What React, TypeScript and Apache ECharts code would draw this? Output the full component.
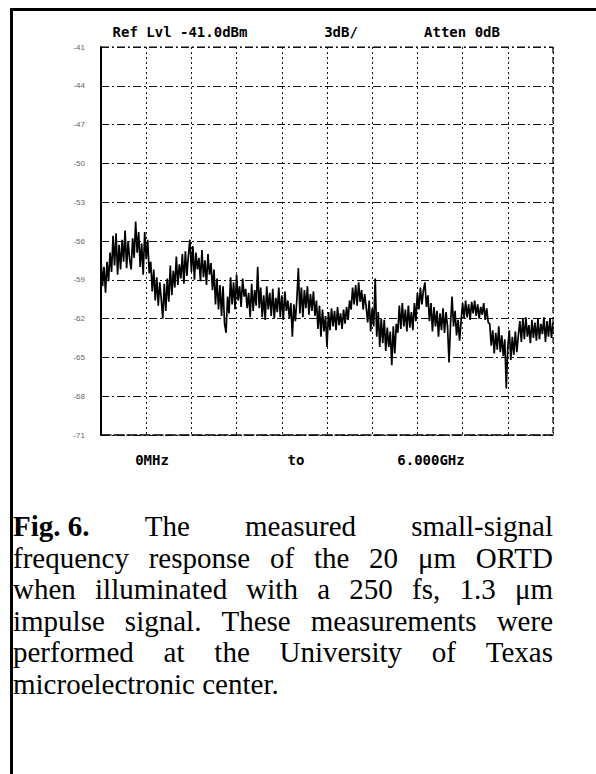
import React, { useEffect, useRef } from "react";
import * as echarts from "echarts";

// Spectrum analyser trace, 0 MHz .. 6000 MHz, one reading every 20 MHz (dBm)
const FREQ_STEP_MHZ = 20;
const traceDbm = [
  -57.4, -59.5, -58.0, -60.0, -57.6, -59.1, -56.9,
  -58.4, -55.6, -57.9, -55.4, -58.6, -56.3,
  -58.2, -55.9, -57.6, -55.2, -58.1, -56.0, -57.4,
  -58.2, -55.8, -57.3, -54.5, -56.9, -55.3, -58.0,
  -56.2, -58.6, -55.3, -57.4, -55.9, -58.5,
  -57.6, -59.9, -58.2, -60.6, -58.8,
  -61.0, -59.2, -60.5, -62.0, -59.3, -61.4, -58.9, -60.7,
  -57.9, -60.2, -58.3, -59.6, -57.2, -59.4, -57.8, -58.9, -57.0, -59.3,
  -56.8, -58.7, -57.1, -55.9, -58.4, -56.4, -59.0, -56.9, -58.2, -57.3,
  -59.1, -56.7, -58.8, -57.5, -59.4, -57.0, -58.6, -57.7,
  -59.8, -58.2, -60.9, -58.9, -61.3, -59.4,
  -61.8, -59.5, -62.4, -63.1, -60.3, -61.6,
  -58.8, -60.9, -59.2, -61.3, -58.6, -60.6, -59.5, -61.1, -58.9, -60.3, -59.7, -61.2, -60.0,
  -61.9, -59.3, -61.4, -59.8, -61.0, -58.0, -61.2,
  -59.6, -61.9, -60.2, -62.1, -59.5, -61.3, -60.0, -61.8, -59.7, -62.0,
  -60.4, -61.5, -59.6, -61.9, -60.2, -62.1, -59.9, -61.4, -60.6, -62.0,
  -60.8, -63.4, -60.9, -62.2, -60.5, -58.1,
  -61.6, -59.6, -61.9, -59.8, -61.2, -59.5, -61.7, -60.1, -61.4, -59.9, -61.8,
  -60.6, -62.8, -61.0, -63.4, -61.3, -63.0, -61.8, -64.2, -61.5,
  -62.9, -61.2, -62.6, -61.4, -62.9, -61.1, -62.5, -61.6, -62.8, -61.3, -62.4, -61.1, -62.1,
  -60.6, -61.3, -59.6, -60.9, -59.4, -61.0, -59.2, -60.7, -59.8, -61.3, -60.1, -61.1,
  -62.3, -60.6, -63.0, -61.2, -62.6, -58.9, -63.4, -61.5, -64.2, -62.0,
  -63.9, -62.1, -64.5, -62.7, -64.2, -63.0, -65.6, -62.6, -64.7, -62.4,
  -63.1, -61.0, -62.8, -60.8, -62.6, -61.3, -63.0, -61.0, -62.7, -61.5, -62.9, -60.8, -62.2,
  -60.0, -61.3, -59.6, -60.9, -59.8, -59.2, -61.1, -60.2,
  -62.2, -60.8, -63.0, -61.1, -62.6, -61.4, -63.4, -61.6, -62.9, -61.2, -63.1, -61.5, -62.6,
  -65.4, -62.4, -60.3, -62.6, -61.4,
  -63.3, -62.1, -63.7, -62.2,
  -60.8, -62.0, -60.6, -61.9, -60.9, -62.1, -60.7, -61.6, -60.6, -61.8,
  -60.9, -62.0, -61.1, -61.7, -60.8, -62.1, -61.2, -62.3,
  -62.4, -64.1, -62.9, -64.7, -63.1, -64.4, -62.6, -64.6, -63.3, -64.9,
  -63.6, -67.4, -64.2,
  -62.9, -65.2, -63.4, -64.8, -63.0, -64.6, -63.3,
  -62.2, -63.8, -62.0, -63.6, -61.9, -63.4, -62.5, -63.9, -62.1, -63.5,
  -62.3, -63.7, -62.0, -63.6, -62.4, -63.2, -61.9, -63.8, -62.2, -63.4,
  -62.0, -63.5, -62.3,
];

const REF_LEVEL = -41; // dBm, top of screen
const DB_PER_DIV = 3;
const DIVISIONS = 10;
const SPAN_MHZ = 6000;

const headerTexts = ["Ref Lvl -41.0dBm", "3dB/", "Atten 0dB"];
const footerTexts = ["0MHz", "to", "6.000GHz"];

const captionLines: string[][] = [
  ["Fig. 6.", "The", "measured", "small-signal"],
  ["frequency", "response", "of", "the", "20", "μm", "ORTD"],
  ["when", "illuminated", "with", "a", "250", "fs,", "1.3", "μm"],
  ["impulse", "signal.", "These", "measurements", "were"],
  ["performed", "at", "the", "University", "of", "Texas"],
  ["microelectronic", "center."],
];

export default function App() {
  const ref = useRef<HTMLDivElement>(null);

  useEffect(() => {
    if (!ref.current) return;
    document.body.style.margin = "0";
    const chart = echarts.init(ref.current, null, { renderer: "svg", width: 596, height: 774 });

    const gridLeft = 101;
    const gridTop = 47;
    const gridW = 452;
    const gridH = 388;

    // caption layout (justified text)
    const capFontSize = 29;
    const capFont = "Liberation Serif";
    const capLeft = 13;
    const capRight = 553;
    const capTop = 526;
    const capSpacing = 31.5;
    const cvs = document.createElement("canvas");
    const ctx = cvs.getContext("2d")!;
    const measure = (t: string, bold: boolean) => {
      ctx.font = `${bold ? "bold " : ""}${capFontSize}px "${capFont}"`;
      return ctx.measureText(t).width;
    };
    const capElems: any[] = [];
    captionLines.forEach((words, li) => {
      const isLast = li === captionLines.length - 1;
      const widths = words.map((w) => measure(w, w === "Fig. 6."));
      const total = widths.reduce((a, b) => a + b, 0);
      const gap = isLast ? measure(" ", false) : (capRight - capLeft - total) / (words.length - 1);
      let x = capLeft;
      words.forEach((w, wi) => {
        capElems.push({
          type: "text",
          x,
          y: capTop + li * capSpacing,
          style: {
            text: w,
            font: `${w === "Fig. 6." ? "bold " : ""}${capFontSize}px "${capFont}"`,
            fill: "#000",
            textVerticalAlign: "middle",
            textAlign: "left",
          },
        });
        x += widths[wi] + gap;
      });
    });

    const monoFont = 'bold 14px "DejaVu Sans Mono"';
    const headerX = [180, 341, 462];
    const footerX = [152, 296, 431];

    chart.setOption({
      animation: false,
      backgroundColor: "#fff",
      grid: { left: gridLeft, top: gridTop, width: gridW, height: gridH, show: false },
      xAxis: {
        type: "value",
        min: 0,
        max: SPAN_MHZ,
        interval: SPAN_MHZ / DIVISIONS,
        axisLabel: { show: false },
        axisTick: { show: false },
        axisLine: { show: true, lineStyle: { color: "#000", width: 1.5, type: [10, 3] } },
        splitLine: { show: true, lineStyle: { color: "#111", width: 1, type: [2, 3] } },
      },
      yAxis: {
        type: "value",
        min: REF_LEVEL - DB_PER_DIV * DIVISIONS,
        max: REF_LEVEL,
        interval: DB_PER_DIV,
        axisLabel: {
          show: true,
          fontSize: 8,
          color: "#666",
          margin: 16,
          formatter: (v: number) => v.toFixed(0),
        },
        axisTick: { show: false },
        axisLine: { show: true, onZero: false, lineStyle: { color: "#000", width: 2 } },
        splitLine: { show: true, lineStyle: { color: "#111", width: 1, type: [8, 3, 2, 3] } },
      },
      series: [
        {
          type: "line",
          data: traceDbm.map((v, i) => [i * FREQ_STEP_MHZ, v]),
          showSymbol: false,
          symbol: "none",
          lineStyle: { color: "#000", width: 1.7 },
          z: 5,
        },
      ],
      graphic: [
        // outer frame
        { type: "line", shape: { x1: 11.5, y1: 8, x2: 11.5, y2: 774 }, style: { stroke: "#000", lineWidth: 3 } },
        { type: "line", shape: { x1: 10, y1: 9.5, x2: 596, y2: 9.5 }, style: { stroke: "#000", lineWidth: 3 } },
        // plot top & right edges
        { type: "line", shape: { x1: gridLeft, y1: gridTop, x2: gridLeft + gridW, y2: gridTop }, style: { stroke: "#000", lineWidth: 1.2, lineDash: [8, 3, 2, 3] } },
        { type: "line", shape: { x1: gridLeft + gridW, y1: gridTop, x2: gridLeft + gridW, y2: gridTop + gridH }, style: { stroke: "#000", lineWidth: 1.2, lineDash: [6, 4] } },
        ...headerTexts.map((t, i) => ({
          type: "text",
          x: headerX[i],
          y: 32,
          style: { text: t, font: monoFont, fill: "#000", textAlign: "center", textVerticalAlign: "middle" },
        })),
        ...footerTexts.map((t, i) => ({
          type: "text",
          x: footerX[i],
          y: 460,
          style: { text: t, font: monoFont, fill: "#000", textAlign: "center", textVerticalAlign: "middle" },
        })),
        ...capElems,
      ],
    });

    return () => chart.dispose();
  }, []);

  return (
    <div
      ref={ref}
      style={{ position: "absolute", left: 0, top: 0, width: 596, height: 774, background: "#fff" }}
    />
  );
}
